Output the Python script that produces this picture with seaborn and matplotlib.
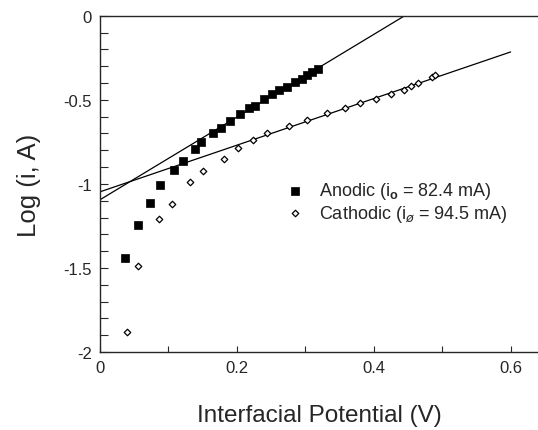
import matplotlib
matplotlib.use("Agg")
import matplotlib.pyplot as plt
import seaborn as sns

# anodic points (filled squares)
anodic_x = [0.0365, 0.055, 0.073, 0.0876, 0.108, 0.121, 0.139, 0.147, 0.165, 0.177,
            0.190, 0.205, 0.218, 0.226, 0.239, 0.251, 0.262, 0.273, 0.285, 0.295,
            0.302, 0.309, 0.318]
anodic_y = [-1.439, -1.244, -1.115, -1.004, -0.918, -0.861, -0.792, -0.752, -0.698, -0.667,
            -0.627, -0.583, -0.550, -0.534, -0.496, -0.468, -0.443, -0.425, -0.395, -0.375,
            -0.351, -0.335, -0.315]

# cathodic points (open diamonds)
cathodic_x = [0.040, 0.055, 0.0866, 0.1046, 0.131, 0.151, 0.181, 0.202, 0.223, 0.244,
              0.276, 0.303, 0.331, 0.358, 0.380, 0.403, 0.425, 0.444, 0.454, 0.464,
              0.485, 0.490]
cathodic_y = [-1.883, -1.486, -1.206, -1.119, -0.990, -0.921, -0.853, -0.786, -0.740, -0.700,
              -0.655, -0.619, -0.577, -0.549, -0.520, -0.494, -0.466, -0.439, -0.419, -0.401,
              -0.367, -0.351]

# Tafel fit lines (end points)
anodic_fit_x = [0.0, 0.445]
anodic_fit_y = [-1.094, 0.0]
cathodic_fit_x = [0.0, 0.60]
cathodic_fit_y = [-1.047, -0.215]

anodic_label = r"Anodic (i$_{\mathbf{o}}$ = 82.4 mA)"
cathodic_label = r"Cathodic (i$_{\o}$ = 94.5 mA)"

sns.set_style("ticks")
plt.rcParams['font.family'] = ['Liberation Sans', 'DejaVu Sans']
plt.rcParams['mathtext.fontset'] = 'custom'
plt.rcParams['mathtext.rm'] = 'Liberation Sans'
plt.rcParams['mathtext.bf'] = 'Liberation Sans:bold'

fig = plt.figure(figsize=(5.38, 4.31), dpi=100)
ax = fig.add_axes([0.186, 0.181, 0.814, 0.780])

sns.lineplot(x=anodic_fit_x, y=anodic_fit_y, ax=ax, color="black", linewidth=0.9)
sns.lineplot(x=cathodic_fit_x, y=cathodic_fit_y, ax=ax, color="black", linewidth=0.9)

sns.scatterplot(x=anodic_x, y=anodic_y, ax=ax, marker="s", s=28, color="black",
                edgecolor="black", linewidth=0.5, label=anodic_label, zorder=3)
sns.scatterplot(x=cathodic_x, y=cathodic_y, ax=ax, marker="D", s=11, facecolor="white",
                edgecolor="black", linewidth=0.9, label=cathodic_label, zorder=3)

ax.set_xlim(0, 0.64)
ax.set_ylim(-2, 0)
ax.set_xticks([0, 0.2, 0.4, 0.6])
ax.set_xticklabels(["0", "0.2", "0.4", "0.6"])
ax.set_xticks([0.1, 0.3, 0.5], minor=True)
ax.set_yticks([0, -0.5, -1, -1.5, -2])
ax.set_yticklabels(["0", "-0.5", "-1", "-1.5", "-2"])
ax.set_yticks([-0.1 * k for k in range(1, 20) if k % 5], minor=True)
ax.tick_params(axis="y", which="both", direction="in", length=6, width=0.8, labelsize=12, pad=6)
ax.tick_params(axis="x", which="both", direction="in", length=4, width=0.8, labelsize=12, pad=6)

for side in ["left", "bottom", "top"]:
    ax.spines[side].set_linewidth(1.0)
ax.spines["right"].set_visible(False)

ax.set_xlabel("Interfacial Potential (V)", fontsize=17.5, labelpad=21)
ax.set_ylabel("Log (i, A)", fontsize=18.5, labelpad=16)

ax.legend(loc="upper left", bbox_to_anchor=(0.408, 0.532), frameon=False, fontsize=13,
          handletextpad=0.85, labelspacing=0.1, handlelength=1.0, borderaxespad=0)

fig.savefig("out.png", dpi=100)
